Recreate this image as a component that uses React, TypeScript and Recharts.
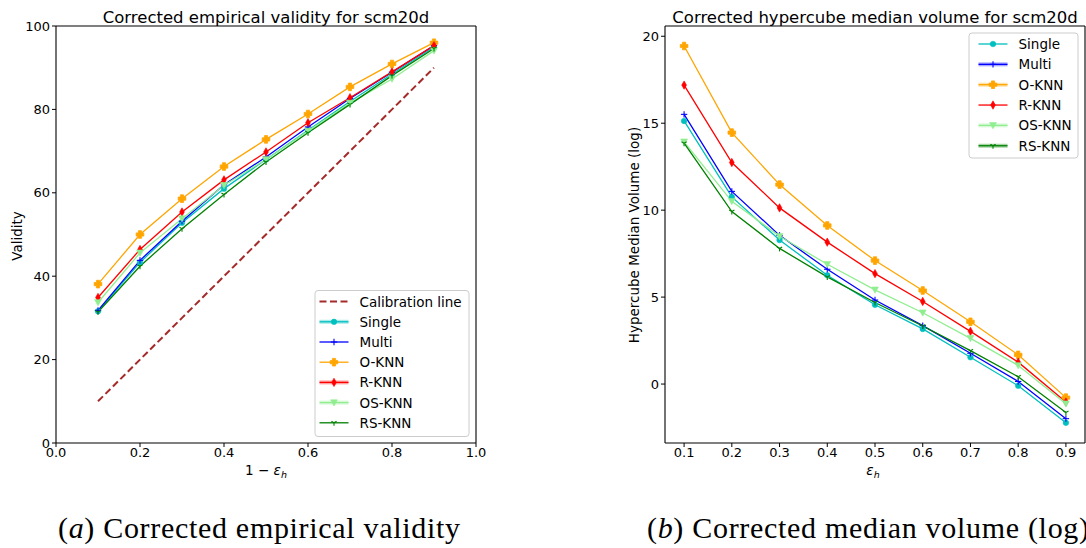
import React from 'react';
import { LineChart, Line, XAxis, YAxis, ReferenceLine } from 'recharts';

// ---------- data ----------
const oneMinusEps = [0.1, 0.2, 0.3, 0.4, 0.5, 0.6, 0.7, 0.8, 0.9];
const calibrationLine = [10, 20, 30, 40, 50, 60, 70, 80, 90];
const singleValidity = [31.6, 43.3, 52.8, 61.0, 68.0, 75.0, 81.9, 88.5, 94.9];
const multiValidity = [31.8, 43.8, 53.2, 61.9, 68.6, 75.8, 82.6, 88.9, 95.3];
const oknnValidity = [38.1, 50.0, 58.6, 66.3, 72.8, 78.9, 85.4, 90.9, 96.0];
const rknnValidity = [34.9, 46.4, 55.4, 63.1, 69.8, 76.8, 82.8, 89.0, 95.3];
const osknnValidity = [33.7, 45.6, 53.8, 61.8, 68.0, 74.8, 81.5, 87.3, 94.1];
const rsknnValidity = [31.4, 42.4, 51.4, 59.6, 67.4, 74.4, 81.2, 88.1, 94.6];

const epsH = [0.1, 0.2, 0.3, 0.4, 0.5, 0.6, 0.7, 0.8, 0.9];
const singleVolume = [15.13, 10.76, 8.28, 6.26, 4.56, 3.17, 1.54, -0.1, -2.23];
const multiVolume = [15.51, 11.08, 8.55, 6.6, 4.83, 3.36, 1.77, 0.15, -1.99];
const oknnVolume = [19.44, 14.46, 11.47, 9.12, 7.1, 5.38, 3.58, 1.68, -0.78];
const rknnVolume = [17.19, 12.74, 10.13, 8.16, 6.35, 4.75, 3.03, 1.26, -1.03];
const osknnVolume = [13.93, 10.51, 8.5, 6.89, 5.42, 4.1, 2.63, 1.07, -1.13];
const rsknnVolume = [13.85, 9.92, 7.8, 6.16, 4.69, 3.34, 1.92, 0.42, -1.64];

const seriesNames = ['Single', 'Multi', 'O-KNN', 'R-KNN', 'OS-KNN', 'RS-KNN'];
const seriesKeys = ['single', 'multi', 'oknn', 'rknn', 'osknn', 'rsknn'];
const seriesColors = ['#00bfbf', '#0000ff', '#ffa500', '#ff0000', '#90ee90', '#008000'];
const seriesMarkers = ['o', '+', 'P', 'd', 'v', '1'];

const validityDomainX = [0, 1];
const validityDomainY = [0, 100];
const validityTicksX = [0, 0.2, 0.4, 0.6, 0.8, 1.0];
const validityTicksY = [0, 20, 40, 60, 80, 100];
const volumeDomainX = [0.06, 0.94];
const volumeDomainY = [-3.39, 20.59];
const volumeTicksX = [0.1, 0.2, 0.3, 0.4, 0.5, 0.6, 0.7, 0.8, 0.9];
const volumeTicksY = [0, 5, 10, 15, 20];

const validitySeries = [singleValidity, multiValidity, oknnValidity, rknnValidity, osknnValidity, rsknnValidity];
const volumeSeries = [singleVolume, multiVolume, oknnVolume, rknnVolume, osknnVolume, rsknnVolume];

const validityRows = oneMinusEps.map((x, i) => {
  const row: any = { x, calib: calibrationLine[i] };
  seriesKeys.forEach((k, j) => (row[k] = validitySeries[j][i]));
  return row;
});
const volumeRows = epsH.map((x, i) => {
  const row: any = { x };
  seriesKeys.forEach((k, j) => (row[k] = volumeSeries[j][i]));
  return row;
});

// ---------- styling ----------
const FONT = 'DejaVu Sans';
const tickStyle = { fill: '#000', fontSize: 13, fontFamily: FONT };

function MarkerShape({ marker, color, x, y }: { marker: string; color: string; x: number; y: number }) {
  switch (marker) {
    case 'o':
      return <circle cx={x} cy={y} r={2.8} fill={color} stroke={color} strokeWidth={0.5} />;
    case '+':
      return (
        <g stroke={color} strokeWidth={1.1}>
          <line x1={x - 3.2} y1={y} x2={x + 3.2} y2={y} />
          <line x1={x} y1={y - 3.2} x2={x} y2={y + 3.2} />
        </g>
      );
    case 'P': {
      const a = 3.8;
      const b = 1.6;
      const pts = [
        [-b, -a], [b, -a], [b, -b], [a, -b], [a, b], [b, b], [b, a], [-b, a], [-b, b], [-a, b], [-a, -b], [-b, -b],
      ]
        .map(([dx, dy]) => `${x + dx},${y + dy}`)
        .join(' ');
      return <polygon points={pts} fill={color} stroke={color} strokeWidth={0.8} strokeLinejoin="round" />;
    }
    case 'd':
      return (
        <polygon
          points={`${x},${y - 4.2} ${x + 2.4},${y} ${x},${y + 4.2} ${x - 2.4},${y}`}
          fill={color}
          stroke={color}
          strokeWidth={0.6}
        />
      );
    case 'v':
      return (
        <polygon
          points={`${x - 3.4},${y - 2.8} ${x + 3.4},${y - 2.8} ${x},${y + 3.4}`}
          fill={color}
          stroke={color}
          strokeWidth={0.6}
        />
      );
    case '1':
      return (
        <g stroke={color} strokeWidth={1.1}>
          <line x1={x} y1={y} x2={x} y2={y + 3} />
          <line x1={x} y1={y} x2={x - 2.6} y2={y - 1.5} />
          <line x1={x} y1={y} x2={x + 2.6} y2={y - 1.5} />
        </g>
      );
    default:
      return null;
  }
}

const makeDot = (marker: string, color: string, tag: string) => (props: any) => {
  const { cx, cy, index } = props;
  const key = `${tag}-${marker}-${index}`;
  if (cx == null || cy == null) return <g key={key} />;
  return (
    <g key={key}>
      <MarkerShape marker={marker} color={color} x={cx} y={cy} />
    </g>
  );
};

function LegendRow({
  x,
  y,
  label,
  color,
  marker,
  dashed,
  band,
}: {
  x: number;
  y: number;
  label: string;
  color: string;
  marker?: string;
  dashed?: boolean;
  band?: boolean;
}) {
  return (
    <g>
      {band && <line x1={x} y1={y} x2={x + 29} y2={y} stroke={color} strokeWidth={4} strokeOpacity={0.35} />}
      <line
        x1={x}
        y1={y}
        x2={x + 29}
        y2={y}
        stroke={color}
        strokeWidth={dashed ? 2 : 1.3}
        strokeDasharray={dashed ? '7 3.5' : undefined}
      />
      {marker && <MarkerShape marker={marker} color={color} x={x + 14.5} y={y} />}
      <text x={x + 40} y={y + 5} fontFamily={FONT} fontSize={13.5} fill="#000">
        {label}
      </text>
    </g>
  );
}

const leftBands = [true, false, false, true, true, false];
const rightBands = [false, true, true, false, true, true];

const frameStroke = { stroke: '#000', strokeWidth: 1.1 };

export default function App() {
  return (
    <div style={{ position: 'absolute', left: 0, top: 0, width: 1086, height: 548, background: '#fff', overflow: 'hidden' }}>
      {/* left chart */}
      <div style={{ position: 'absolute', left: 0, top: 0 }}>
        <LineChart width={490} height={470} data={validityRows} margin={{ top: 26, right: 14, left: 0, bottom: 0 }}>
          <XAxis
            dataKey="x"
            type="number"
            domain={validityDomainX}
            ticks={validityTicksX}
            tickFormatter={(v: number) => v.toFixed(1)}
            allowDataOverflow
            height={27}
            tick={tickStyle}
            tickSize={4}
            tickMargin={1}
            axisLine={frameStroke}
            tickLine={{ stroke: '#000' }}
            interval={0}
          />
          <YAxis
            type="number"
            domain={validityDomainY}
            ticks={validityTicksY}
            allowDataOverflow
            width={56}
            tick={tickStyle}
            tickSize={4}
            tickMargin={2}
            axisLine={frameStroke}
            tickLine={{ stroke: '#000' }}
            interval={0}
          />
          <ReferenceLine y={validityDomainY[1]} {...frameStroke} ifOverflow="visible" />
          <ReferenceLine x={validityDomainX[1]} {...frameStroke} ifOverflow="visible" />
          <Line
            dataKey="calib"
            type="linear"
            stroke="#a52a2a"
            strokeWidth={2}
            strokeDasharray="7 3.5"
            dot={false}
            activeDot={false}
            isAnimationActive={false}
          />
          {seriesKeys.map((k, j) => (
            <Line
              key={k}
              dataKey={k}
              name={seriesNames[j]}
              type="linear"
              stroke={seriesColors[j]}
              strokeWidth={1.3}
              dot={makeDot(seriesMarkers[j], seriesColors[j], 'L' + k)}
              activeDot={false}
              isAnimationActive={false}
            />
          ))}
        </LineChart>
      </div>

      {/* right chart */}
      <div style={{ position: 'absolute', left: 560, top: 0 }}>
        <LineChart width={526} height={470} data={volumeRows} margin={{ top: 26, right: 1, left: 0, bottom: 0 }}>
          <XAxis
            dataKey="x"
            type="number"
            domain={volumeDomainX}
            ticks={volumeTicksX}
            tickFormatter={(v: number) => v.toFixed(1)}
            allowDataOverflow
            height={27}
            tick={tickStyle}
            tickSize={4}
            tickMargin={1}
            axisLine={frameStroke}
            tickLine={{ stroke: '#000' }}
            interval={0}
          />
          <YAxis
            type="number"
            domain={volumeDomainY}
            ticks={volumeTicksY}
            allowDataOverflow
            width={105}
            tick={tickStyle}
            tickSize={4}
            tickMargin={2}
            axisLine={frameStroke}
            tickLine={{ stroke: '#000' }}
            interval={0}
          />
          <ReferenceLine y={volumeDomainY[1]} {...frameStroke} ifOverflow="visible" />
          <ReferenceLine x={volumeDomainX[1]} {...frameStroke} ifOverflow="visible" />
          {seriesKeys.map((k, j) => (
            <Line
              key={k}
              dataKey={k}
              name={seriesNames[j]}
              type="linear"
              stroke={seriesColors[j]}
              strokeWidth={1.3}
              dot={makeDot(seriesMarkers[j], seriesColors[j], 'R' + k)}
              activeDot={false}
              isAnimationActive={false}
            />
          ))}
        </LineChart>
      </div>

      {/* titles, labels, legends, captions */}
      <svg
        width={1086}
        height={548}
        style={{ position: 'absolute', left: 0, top: 0, pointerEvents: 'none' }}
      >
        <text x={266} y={23} textAnchor="middle" fontFamily={FONT} fontSize={16.5} fill="#000">
          Corrected empirical validity for scm20d
        </text>
        <text x={875} y={23} textAnchor="middle" fontFamily={FONT} fontSize={16.5} fill="#000">
          Corrected hypercube median volume for scm20d
        </text>

        <text x={266} y={475} textAnchor="middle" fontFamily={FONT} fontSize={13.5} fill="#000">
          1 − <tspan fontStyle="italic">ε</tspan>
          <tspan fontStyle="italic" fontSize={9.5} dy={3}>h</tspan>
        </text>
        <text x={873} y={475} textAnchor="middle" fontFamily={FONT} fontSize={13.5} fill="#000">
          <tspan fontStyle="italic">ε</tspan>
          <tspan fontStyle="italic" fontSize={9.5} dy={3}>h</tspan>
        </text>

        <text
          x={22}
          y={236}
          textAnchor="middle"
          transform="rotate(-90 22 236)"
          fontFamily={FONT}
          fontSize={13.5}
          fill="#000"
        >
          Validity
        </text>
        <text
          x={639}
          y={235}
          textAnchor="middle"
          transform="rotate(-90 639 235)"
          fontFamily={FONT}
          fontSize={13.5}
          fill="#000"
        >
          Hypercube Median Volume (log)
        </text>

        {/* left legend */}
        <rect x={315} y={290.5} width={154} height={146} rx={3} fill="#fff" fillOpacity={0.8} stroke="#cccccc" strokeWidth={1} />
        <LegendRow x={319.5} y={301.5} label="Calibration line" color="#a52a2a" dashed />
        {seriesNames.map((n, j) => (
          <LegendRow
            key={n}
            x={319.5}
            y={321.8 + j * 20.2}
            label={n}
            color={seriesColors[j]}
            marker={seriesMarkers[j]}
            band={leftBands[j]}
          />
        ))}

        {/* right legend */}
        <rect x={969} y={33} width={109} height={125} rx={3} fill="#fff" fillOpacity={0.8} stroke="#cccccc" strokeWidth={1} />
        {seriesNames.map((n, j) => (
          <LegendRow
            key={n}
            x={978.5}
            y={44 + j * 20.35}
            label={n}
            color={seriesColors[j]}
            marker={seriesMarkers[j]}
            band={rightBands[j]}
          />
        ))}

        {/* captions */}
        <text x={58} y={538} fontFamily="Liberation Serif" fontSize={30} fill="#000" textLength={402} lengthAdjust="spacing">
          (<tspan fontStyle="italic">a</tspan>) Corrected empirical validity
        </text>
        <text x={647} y={538} fontFamily="Liberation Serif" fontSize={30} fill="#000" textLength={442} lengthAdjust="spacing">
          (<tspan fontStyle="italic">b</tspan>) Corrected median volume (log)
        </text>
      </svg>
    </div>
  );
}
